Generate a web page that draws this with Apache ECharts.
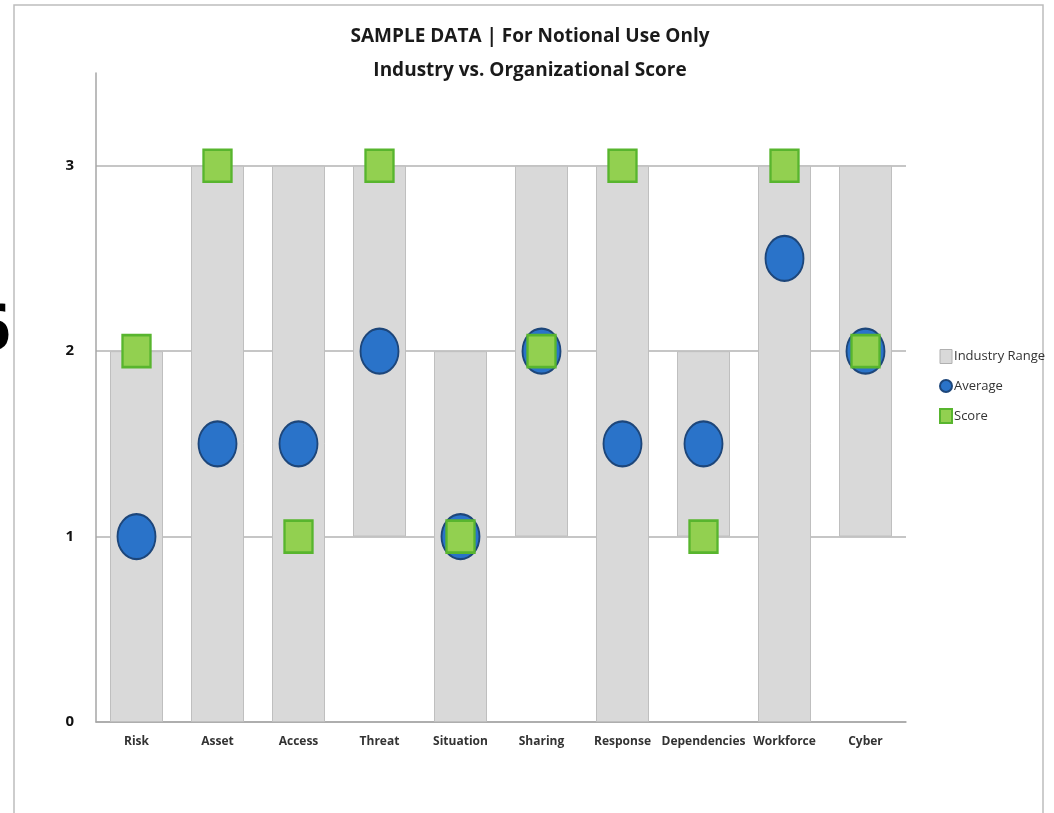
<!DOCTYPE html>
<html><head><meta charset="utf-8">
<script src="https://cdn.jsdelivr.net/npm/echarts@6/dist/echarts.min.js"></script>
<style>html,body{margin:0;padding:0;background:#fff}#c{width:1054px;height:813px}</style>
</head><body><div id="c"></div>
<script>
const categories = ['Risk','Asset','Access','Threat','Situation','Sharing','Response','Dependencies','Workforce','Cyber'];
const rangeLow  = [0, 0, 0, 1, 0, 1, 0, 1, 0, 1];
const rangeHigh = [2, 3, 3, 3, 2, 3, 3, 2, 3, 3];
const average   = [1, 1.5, 1.5, 2, 1, 2, 1.5, 1.5, 2.5, 2];
const score     = [2, 3, 1, 3, 1, 2, 3, 1, 3, 2];
const yTicks = [0, 1, 2, 3];

const rangeSpan = rangeHigh.map((h, i) => h - rangeLow[i]);
const font = '"Open Sans", "Liberation Sans", sans-serif';
const chart = echarts.init(document.getElementById('c'));
chart.setOption({
  backgroundColor: '#fff',
  animation: false,
  title: {
    text: 'SAMPLE DATA | For Notional Use Only\nIndustry vs. Organizational Score',
    left: 525, top: 15, textAlign: 'center',
    textStyle: { fontFamily: font, fontSize: 19, fontWeight: 'bold', color: '#1a1a1a', lineHeight: 34 }
  },
  graphic: [
    { type: 'rect', shape: { x: 14, y: 5, width: 1029, height: 830 }, style: { fill: 'none', stroke: '#bdbdbd', lineWidth: 1.5 }, silent: true },
    { type: 'text', left: -26, top: 300, style: { text: '6', font: 'bold 64px ' + font, fill: '#000' }, silent: true }
  ],
  legend: {
    orient: 'vertical', left: 934, top: 344, itemGap: 15, itemWidth: 12, itemHeight: 14,
    textStyle: { fontFamily: font, fontSize: 13, color: '#333', padding: [0,0,0,-3] },
    data: [
      { name: 'Industry Range', icon: 'rect', itemStyle: { color: '#d9d9d9', borderColor: '#b0b0b0', borderWidth: 1 } },
      { name: 'Average', icon: 'circle' },
      { name: 'Score', icon: 'rect' }
    ]
  },
  grid: { left: 96, right: 148, top: 73, bottom: 91 },
  xAxis: {
    type: 'category', data: categories,
    axisLine: { lineStyle: { color: '#a6a6a6', width: 1.5 } },
    axisTick: { show: false },
    axisLabel: { interval: 0, fontFamily: font, fontSize: 12, fontWeight: 'bold', color: '#333', margin: 14 }
  },
  yAxis: {
    type: 'value', min: 0, max: 3.5, interval: 1,
    axisLine: { show: true, lineStyle: { color: '#a6a6a6', width: 1.5 } },
    axisTick: { show: false },
    axisLabel: { showMaxLabel: false, fontFamily: font, fontSize: 15, fontWeight: 'bold', color: '#111', margin: 22,
      formatter: v => yTicks.includes(v) ? String(v) : '' },
    splitLine: { show: true, showMaxLine: false, lineStyle: { color: '#b3b3b3', width: 1.5 } }
  },
  series: [
    { name: 'base', type: 'bar', stack: 'r', data: rangeLow, barWidth: 53,
      itemStyle: { color: 'rgba(0,0,0,0)' }, silent: true, legendHoverLink: false },
    { name: 'Industry Range', type: 'bar', stack: 'r', data: rangeSpan, barWidth: 53,
      itemStyle: { color: '#d9d9d9', borderColor: '#bfbfbf', borderWidth: 1 } },
    { name: 'Average', type: 'scatter', data: average, symbol: 'circle', symbolSize: [38, 45], z: 3,
      itemStyle: { color: '#2a73c9', borderColor: '#1d467a', borderWidth: 2, opacity: 1 } },
    { name: 'Score', type: 'scatter', data: score, symbol: 'rect', symbolSize: [28, 32], z: 4,
      itemStyle: { color: '#92d050', borderColor: '#58b52e', borderWidth: 2.5, opacity: 1, borderRadius: 2 } }
  ]
});
</script></body></html>
